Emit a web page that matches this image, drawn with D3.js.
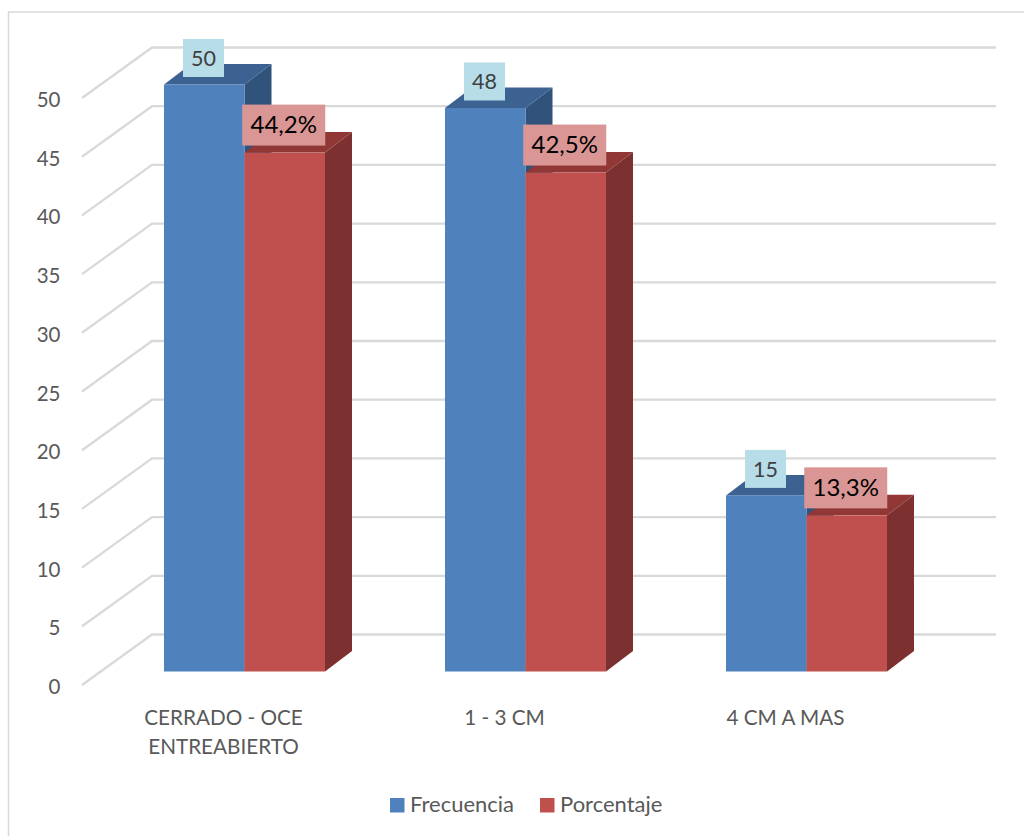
<!DOCTYPE html>
<html><head><meta charset="utf-8">
<script src="https://cdn.jsdelivr.net/npm/d3@7"></script>
<style>
html,body{margin:0;padding:0;background:#fff}
svg{display:block}
text{font-family:Lato,"Open Sans",sans-serif}
</style></head><body>
<svg id="c" width="1024" height="836"></svg>
<script>
const categories = [["CERRADO - OCE","ENTREABIERTO"],["1 - 3 CM"],["4 CM A MAS"]];
const seriesNames = ["Frecuencia","Porcentaje"];
const frecuencia = [50,48,15];
const porcentaje = [44.2,42.5,13.3];
const yTicks = [0,5,10,15,20,25,30,35,40,45,50];
const frontColors = ["#4f81bd","#c0504d"];
const topColors = ["#3c6291","#913836"];
const sideColors = ["#31527a","#7c302f"];
const labelFills = ["#b7dde8","#d99694"];
const labelInk = ["#404040","#000000"];

const DX = 27, DY = 20.5, GRID_L = 82, GRID_R = 996;
const svg = d3.select("#c");
const y = d3.scaleLinear().domain([0,50]).range([671.5,84.5]);
const x0 = d3.scaleBand().domain(d3.range(categories.length)).range([104,947]).paddingInner(120/281).paddingOuter(60/281);
const x1 = d3.scaleBand().domain([0,1]).range([0,x0.bandwidth()]);

// frame
svg.append("path").attr("d","M8.5,836V12H1024").attr("fill","none").attr("stroke","#d9d9d9").attr("stroke-width",1.5);

// grid
const g = svg.append("g");
yTicks.forEach(t=>{
  const yy = y(t)+13.5;
  g.append("path").attr("d",`M${GRID_L},${yy}L${GRID_L+70},${yy-50.5}H${GRID_R}`)
   .attr("fill","none").attr("stroke","#d9d9d9").attr("stroke-width",2.3);
  g.append("text").attr("x",60.5).attr("y",yy+9).attr("text-anchor","end")
   .attr("font-size",20.5).attr("fill","#595959").text(t);
});

// bars
const seriesVals = [frecuencia,porcentaje];
const bars = svg.append("g");
categories.forEach((c,i)=>{
  seriesVals.forEach((vals,s)=>{
    const l = x0(i)+x1(s), w = x1.bandwidth(), t = y(vals[i]), b = y(0);
    bars.append("path").attr("fill",sideColors[s])
      .attr("d",`M${l+w},${t}l${DX},${-DY}V${b-DY}l${-DX},${DY}Z`);
    bars.append("path").attr("fill",topColors[s])
      .attr("d",`M${l},${t}l${DX},${-DY}h${w}l${-DX},${DY}Z`);
    bars.append("rect").attr("x",l).attr("y",t).attr("width",w).attr("height",b-t).attr("fill",frontColors[s]);
  });
});

// data labels
const lab = svg.append("g");
const fmt = v=>v.toFixed(1).replace(".",",")+"%";
categories.forEach((c,i)=>{
  seriesVals.forEach((vals,s)=>{
    const cx = x0(i)+x1(s)+x1.bandwidth()/2 - (s?1:0.75);
    const t = y(vals[i]);
    const bw = s?83:41, bh = s?41:38, gap = s?7:7.5;
    lab.append("rect").attr("x",cx-bw/2).attr("y",t-gap-bh).attr("width",bw).attr("height",bh).attr("fill",labelFills[s]);
    lab.append("text").attr("x",cx).attr("y",t-gap-bh/2+8).attr("text-anchor","middle")
      .attr("font-size",s?24:21.5).attr("fill",labelInk[s]).text(s?fmt(vals[i]):vals[i]);
  });
});

// category labels
categories.forEach((c,i)=>{
  const cx = x0(i)+x0.bandwidth()/2-21;
  c.forEach((line,k)=>svg.append("text").attr("x",cx).attr("y",725+k*29).attr("text-anchor","middle")
    .attr("font-size",20.7).attr("fill","#595959").text(line));
});

// legend
const legendX = d3.scalePoint().domain(seriesNames).range([390,540]);
seriesNames.forEach((n,s)=>{
  svg.append("rect").attr("x",legendX(n)).attr("y",798).attr("width",14.5).attr("height",14.5).attr("fill",frontColors[s]);
  svg.append("text").attr("x",legendX(n)+20).attr("y",812).attr("font-size",22).attr("fill","#595959").text(n);
});
</script></body></html>
